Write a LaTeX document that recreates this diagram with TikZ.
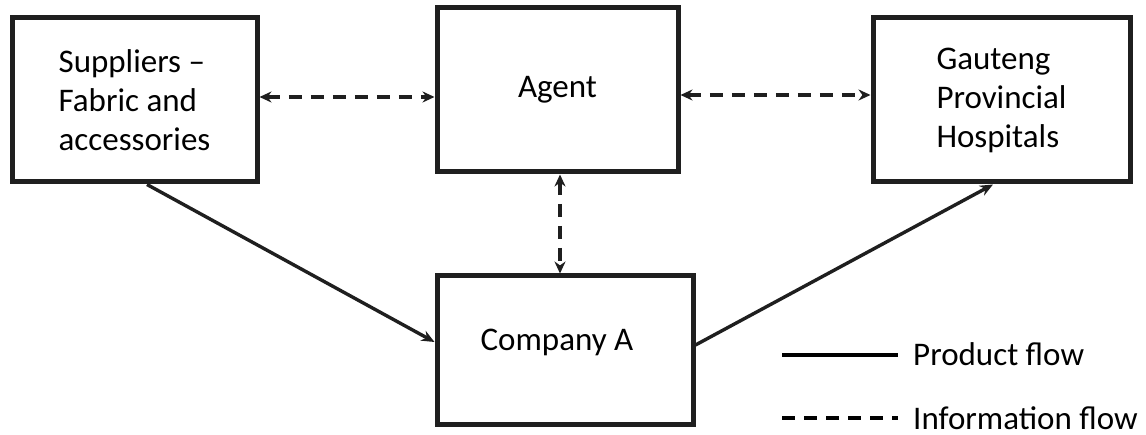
\documentclass[tikz,border=0pt]{standalone}
\usepackage{fontspec}
\setmainfont{Carlito}
\usetikzlibrary{arrows.meta}
\begin{document}
\begin{tikzpicture}[x=1pt,y=-1pt,
  box/.style={draw=black!88, line width=5pt, inner sep=0pt, align=left,
    font=\fontsize{33}{39}\selectfont},
  prod/.style={draw=black!88, line width=3.4pt, -{Stealth[length=13pt,width=11pt]}},
  info/.style={draw=black!88, line width=3.4pt, dash pattern=on 13pt off 9pt,
    {Stealth[length=12pt,width=11pt]}-{Stealth[length=12pt,width=11pt]}},
  legtext/.style={anchor=base west, inner sep=0pt, font=\fontsize{33}{39}\selectfont}]
\useasboundingbox (0,0) rectangle (1146,435);
\node[box, minimum width=245pt, minimum height=164pt] (sup) at (134.5,100)
  {Suppliers --\\Fabric and\\accessories};
\node[box, minimum width=241pt, minimum height=164pt] (agent) at (557.5,90) {Agent};
\node[box, minimum width=257pt, minimum height=164pt] (gau) at (1001.5,100)
  {Gauteng\\Provincial\\Hospitals};
\node[box, minimum width=256pt, minimum height=149pt] (comp) at (565,350.5) {};
\node[inner sep=0pt, font=\fontsize{33}{39}\selectfont] (comptext) at (557,342) {Company A};
% information flows
\draw[info] ([yshift=3pt]sup.east) -- ([yshift=3pt]sup.east -| agent.west);
\draw[info] ([yshift=5pt]gau.west -| agent.east) -- ([yshift=5pt]gau.west);
\draw[info] ([xshift=2.5pt]agent.south) -- ([xshift=2.5pt]agent.south |- comp.north);
% product flows
\draw[prod] ([xshift=12.5pt]sup.south) -- ([yshift=8.5pt]comp.west);
\draw[prod] ([yshift=5.5pt]comp.east) -- ([xshift=-8.5pt]gau.south);
% legend
\coordinate (l1a) at (782,355);
\coordinate (l1b) at (898,355);
\coordinate (l2a) at (782,418);
\coordinate (l2b) at (898,418);
\draw[draw=black, line width=3.4pt] (l1a) -- (l1b);
\draw[draw=black, line width=3.4pt, dash pattern=on 13pt off 9pt] (l2a) -- (l2b);
\node[legtext] (lt1) at (913,366) {Product flow};
\node[legtext] (lt2) at (913,429) {Information flow};
\end{tikzpicture}
\end{document}
